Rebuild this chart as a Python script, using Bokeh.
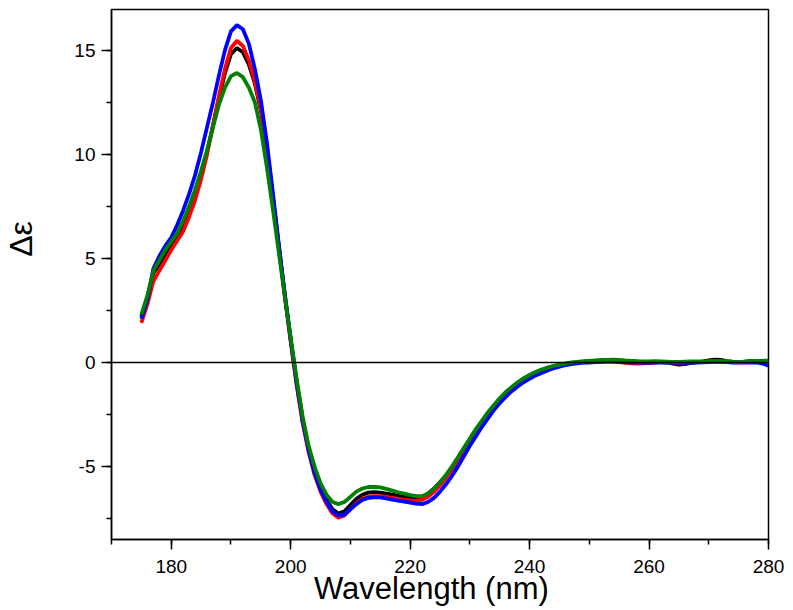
import numpy as np
from bokeh.plotting import figure
from bokeh.models import SingleIntervalTicker, Range1d, Span, PrintfTickFormatter
from bokeh.embed import file_html
from bokeh.resources import INLINE

# Wavelength (nm), 1 nm steps
wavelength = list(range(175, 281))

black = [
    2.2, 3.1, 4.3, 4.7, 5.2, 5.6, 6.0, 6.5, 7.2, 8.0,            # 175-184
    9.0, 10.1, 11.4, 12.7, 13.9, 14.8, 15.1, 14.9, 14.3, 13.4,   # 185-194
    12.1, 10.3, 8.0, 5.6, 3.3, 1.1, -0.9, -2.7, -4.1, -5.2,      # 195-204
    -6.0, -6.6, -7.05, -7.25, -7.15, -6.85, -6.55, -6.35, -6.25, -6.22,  # 205-214
    -6.25, -6.3, -6.35, -6.4, -6.45, -6.5, -6.5, -6.45, -6.3, -6.05,     # 215-224
    -5.75, -5.45, -5.05, -4.6, -4.15, -3.7, -3.25, -2.85, -2.45, -2.1,   # 225-234
    -1.77, -1.47, -1.22, -0.98, -0.78, -0.62, -0.48, -0.36, -0.26, -0.18,  # 235-244
    -0.11, -0.06, -0.02, 0.01, 0.03,                               # 245-249
    0.05, 0.07, 0.08, 0.1, 0.1, 0.08, 0.06, 0.05, 0.04, 0.03,     # 250-259
    0.02, 0.03, 0.02, 0.0, -0.05, -0.1, -0.08, -0.02, 0.02, 0.05, # 260-269
    0.1, 0.14, 0.12, 0.07, 0.04, 0.03, 0.04, 0.06, 0.05, 0.08,    # 270-279
    0.06,                                                          # 280
]

red = [
    1.9, 2.8, 3.9, 4.4, 4.9, 5.4, 5.85, 6.3, 7.0, 7.8,
    8.8, 10.0, 11.4, 12.8, 14.1, 15.1, 15.45, 15.2, 14.5, 13.5,
    12.2, 10.4, 8.0, 5.6, 3.2, 1.0, -1.1, -2.9, -4.3, -5.4,
    -6.2, -6.8, -7.25, -7.45, -7.35, -7.05, -6.75, -6.55, -6.45, -6.42,
    -6.42, -6.45, -6.5, -6.55, -6.6, -6.62, -6.65, -6.6, -6.45, -6.2,
    -5.9, -5.55, -5.15, -4.7, -4.25, -3.8, -3.35, -2.95, -2.55, -2.2,
    -1.85, -1.55, -1.28, -1.05, -0.85, -0.68, -0.53, -0.41, -0.3, -0.21,
    -0.14, -0.08, -0.04, -0.01, 0.01,
    0.02, 0.04, 0.05, 0.06, 0.05, 0.02, -0.02, -0.04, -0.05, -0.04,
    -0.02, 0.0, 0.02, 0.02, 0.0, -0.02, -0.02, 0.0, 0.02, 0.03,
    0.05, 0.06, 0.06, 0.04, 0.02, 0.01, 0.02, 0.03, 0.02, 0.02,
    0.0,
]

blue = [
    2.1, 3.0, 4.5, 5.1, 5.6, 6.0, 6.6, 7.3, 8.1, 9.0,
    10.1, 11.3, 12.5, 13.8, 15.0, 15.9, 16.2, 16.0, 15.3, 14.1,
    12.6, 10.6, 8.2, 5.7, 3.3, 1.1, -1.0, -2.8, -4.2, -5.3,
    -6.1, -6.7, -7.15, -7.35, -7.3, -7.05, -6.8, -6.6, -6.5, -6.48,
    -6.48, -6.52, -6.58, -6.63, -6.68, -6.73, -6.78, -6.8, -6.7, -6.5,
    -6.2, -5.85, -5.45, -5.0, -4.5, -4.0, -3.55, -3.1, -2.7, -2.3,
    -1.95, -1.65, -1.38, -1.15, -0.95, -0.78, -0.62, -0.5, -0.38, -0.28,
    -0.2, -0.13, -0.08, -0.04, -0.01,
    0.0, 0.02, 0.03, 0.04, 0.04, 0.03, 0.02, 0.0, -0.01, -0.02,
    -0.02, -0.01, 0.0, 0.01, 0.0, -0.02, -0.03, -0.02, 0.0, 0.01,
    0.02, 0.03, 0.03, 0.02, 0.0, -0.01, 0.0, 0.01, 0.0, -0.05,
    -0.15,
]

green = [
    2.3, 3.2, 4.4, 4.9, 5.4, 5.8, 6.2, 6.8, 7.5, 8.3,
    9.2, 10.2, 11.3, 12.4, 13.2, 13.75, 13.9, 13.7, 13.2, 12.5,
    11.2, 9.4, 7.4, 5.3, 3.2, 1.2, -0.8, -2.6, -4.0, -5.0,
    -5.8, -6.35, -6.7, -6.8, -6.7, -6.45, -6.2, -6.05, -5.98, -5.97,
    -6.0, -6.07, -6.15, -6.23, -6.3, -6.37, -6.42, -6.42, -6.3, -6.05,
    -5.75, -5.4, -5.0, -4.55, -4.1, -3.65, -3.2, -2.8, -2.4, -2.05,
    -1.72, -1.42, -1.18, -0.95, -0.76, -0.6, -0.46, -0.34, -0.25, -0.17,
    -0.1, -0.05, 0.0, 0.03, 0.06,
    0.08, 0.1, 0.12, 0.13, 0.14, 0.13, 0.1, 0.08, 0.06, 0.05,
    0.05, 0.06, 0.05, 0.04, 0.03, 0.03, 0.04, 0.05, 0.05, 0.04,
    0.05, 0.06, 0.07, 0.05, 0.03, 0.02, 0.04, 0.06, 0.07, 0.08,
    0.1,
]

x_label = "Wavelength (nm)" + "\u00a0" * 2
y_label = "\u00a0" * 8 + "Δε"

FONT = "Liberation Sans"

p = figure(
    frame_width=657, frame_height=530,
    x_range=Range1d(170, 280), y_range=Range1d(-8.5, 16.95),
    output_backend="svg", toolbar_location=None,
    min_border_left=111, min_border_top=9,
    min_border_right=20, min_border_bottom=64,
    background_fill_color="white", border_fill_color="white",
)

p.xgrid.visible = False
p.ygrid.visible = False
p.outline_line_color = "black"
p.outline_line_width = 1.5
p.outline_line_alpha = 1.0

p.xaxis.ticker = SingleIntervalTicker(interval=20, num_minor_ticks=2)
p.yaxis.ticker = SingleIntervalTicker(interval=5, num_minor_ticks=2)
p.xaxis.formatter = PrintfTickFormatter(format="%d")
p.yaxis.formatter = PrintfTickFormatter(format="%d")

for ax in (p.xaxis[0], p.yaxis[0]):
    ax.axis_line_color = "black"
    ax.axis_line_width = 1.5
    ax.major_tick_line_color = "black"
    ax.major_tick_line_width = 1.5
    ax.minor_tick_line_color = "black"
    ax.minor_tick_line_width = 1.5
    ax.major_tick_out = 10
    ax.major_tick_in = 0
    ax.minor_tick_out = 5
    ax.minor_tick_in = 0
    ax.major_label_text_font = FONT
    ax.major_label_text_font_size = "19px"
    ax.major_label_text_color = "black"
    ax.axis_label_text_font = FONT
    ax.axis_label_text_font_style = "normal"
    ax.axis_label_text_color = "black"

p.xaxis.major_label_standoff = 10
p.yaxis.major_label_standoff = 6

p.xaxis.axis_label = x_label
p.xaxis.axis_label_text_font_size = "31px"
p.xaxis.axis_label_standoff = -5

p.yaxis.axis_label = y_label
p.yaxis.axis_label_text_font_size = "32px"
p.yaxis.axis_label_standoff = 32

zero = Span(location=0, dimension="width", line_color="black", line_width=1.5)
p.add_layout(zero)

p.line(wavelength, black, line_color="black", line_width=3.8)
p.line(wavelength, red, line_color="#ff0000", line_width=3.8)
p.line(wavelength, blue, line_color="#0000ff", line_width=3.8)
p.line(wavelength, green, line_color="#008000", line_width=3.8)

open("out.html", "w").write(file_html(p, INLINE))
